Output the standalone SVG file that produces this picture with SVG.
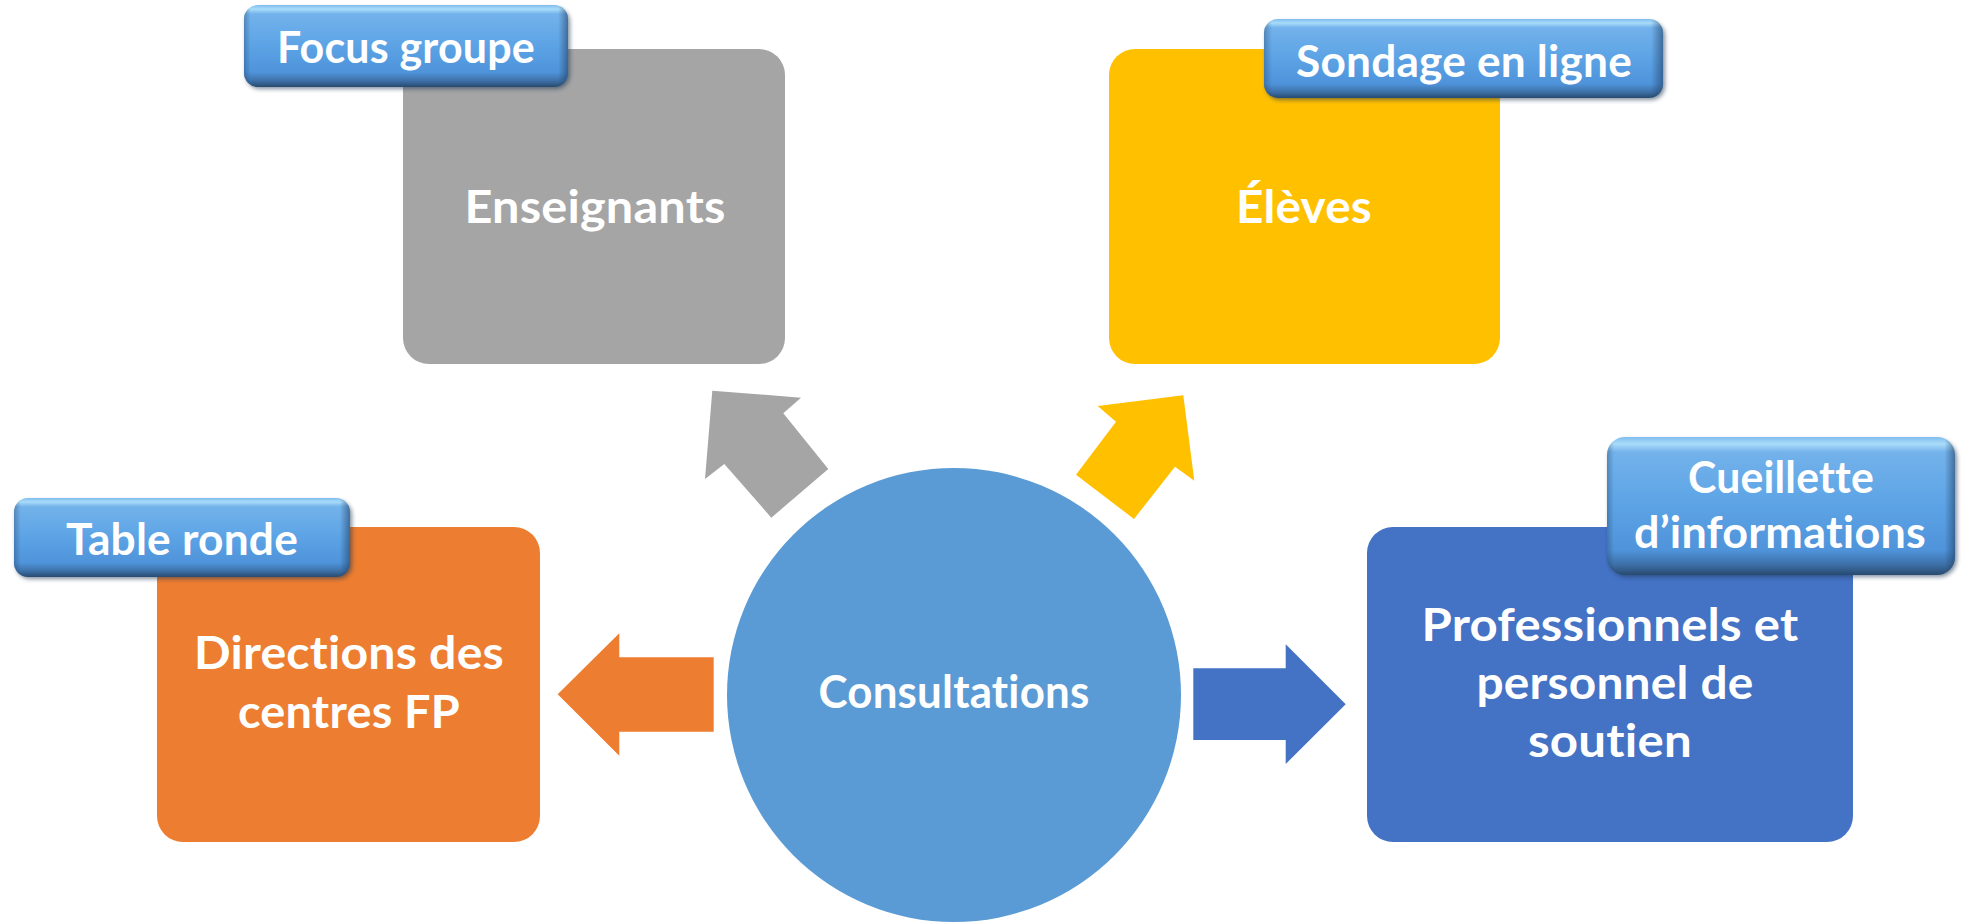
<svg xmlns="http://www.w3.org/2000/svg" width="1967" height="922" viewBox="0 0 1967 922">
  <style>
    .node-text { font-family: Lato, "Liberation Sans", sans-serif; font-weight: bold; font-size: 46px; fill: #ffffff; text-anchor: middle; font-variant-ligatures: none; font-feature-settings: "liga" 0, "clig" 0, "dlig" 0, "calt" 0; letter-spacing: 0.2px; }
    .label-text { font-family: Lato, "Liberation Sans", sans-serif; font-weight: bold; font-size: 43px; fill: #ffffff; text-anchor: middle; font-variant-ligatures: none; font-feature-settings: "liga" 0, "clig" 0, "dlig" 0, "calt" 0; letter-spacing: 0.2px; }
    .lbl { fill: url(#lblV); }
    .lbl-edge { fill: url(#lblH); }
    .lbl-shadow { fill: #1c3550; opacity: 0.55; filter: url(#blur); }
  </style>
  <defs>
    <linearGradient id="lblV" x1="0" y1="0" x2="0" y2="1">
      <stop offset="0" stop-color="#7fbcee"/>
      <stop offset="0.05" stop-color="#a9dcf9"/>
      <stop offset="0.11" stop-color="#73b2eb"/>
      <stop offset="0.5" stop-color="#5ca3e5"/>
      <stop offset="0.82" stop-color="#4f93da"/>
      <stop offset="0.92" stop-color="#3e72aa"/>
      <stop offset="1" stop-color="#284a70"/>
    </linearGradient>
    <linearGradient id="lblH" x1="0" y1="0" x2="1" y2="0">
      <stop offset="0" stop-color="#1e3a5c" stop-opacity="0.35"/>
      <stop offset="0.02" stop-color="#1e3a5c" stop-opacity="0"/>
      <stop offset="0.97" stop-color="#1e3a5c" stop-opacity="0"/>
      <stop offset="1" stop-color="#1e3a5c" stop-opacity="0.55"/>
    </linearGradient>
    <filter id="blur" x="-10%" y="-10%" width="120%" height="130%">
      <feGaussianBlur stdDeviation="2"/>
    </filter>
  </defs>

  <g id="connectors">
    <polygon id="arrow-enseignants" fill="#a5a5a5" points="712.3,390.7 801,397.7 783.3,413.3 828.3,469 771.3,517.7 724.3,464 705,479"/>
    <polygon id="arrow-eleves" fill="#ffc000" points="1097.7,406 1183.3,395.3 1194.3,480.7 1175,466.7 1134,519 1076,474.7 1116,421.7"/>
    <polygon id="arrow-directions" fill="#ed7d31" points="557.7,694.3 619.3,633.3 619.3,657.3 713.7,657.3 713.7,731.7 619.3,731.7 619.3,755.7"/>
    <polygon id="arrow-professionnels" fill="#4472c4" points="1193.3,668.3 1285.7,668.3 1285.7,644.3 1345.7,704.3 1285.7,764 1285.7,740 1193.3,740"/>
  </g>

  <g id="node-enseignants">
    <rect x="403" y="49" width="382" height="315" rx="26" fill="#a5a5a5"/>
    <text class="node-text" x="595" y="223" textLength="261" lengthAdjust="spacingAndGlyphs">Enseignants</text>
  </g>

  <g id="node-eleves">
    <rect x="1109" y="49" width="391" height="315" rx="26" fill="#ffc000"/>
    <text class="node-text" x="1304" y="223" textLength="136" lengthAdjust="spacingAndGlyphs">Élèves</text>
  </g>

  <g id="node-directions">
    <rect x="157" y="527" width="383" height="315" rx="26" fill="#ed7d31"/>
    <text class="node-text" x="349" y="669" textLength="310" lengthAdjust="spacingAndGlyphs">Directions des</text>
    <text class="node-text" x="349" y="728" textLength="222" lengthAdjust="spacingAndGlyphs">centres FP</text>
  </g>

  <g id="node-professionnels">
    <rect x="1367" y="527" width="486" height="315" rx="26" fill="#4472c4"/>
    <text class="node-text" x="1610" y="641" textLength="377" lengthAdjust="spacingAndGlyphs">Professionnels et</text>
    <text class="node-text" x="1615" y="699" textLength="277" lengthAdjust="spacingAndGlyphs">personnel de</text>
    <text class="node-text" x="1610" y="757" textLength="164" lengthAdjust="spacingAndGlyphs">soutien</text>
  </g>

  <g id="node-consultations">
    <circle cx="954" cy="695" r="227" fill="#5b9bd5"/>
    <text class="node-text" x="954" y="708" textLength="271" lengthAdjust="spacingAndGlyphs">Consultations</text>
  </g>

  <g id="label-focus-groupe">
    <rect class="lbl-shadow" x="246" y="8" width="324" height="81" rx="14"/>
    <rect class="lbl" x="244" y="5" width="324" height="82" rx="14"/>
    <rect class="lbl-edge" x="244" y="5" width="324" height="82" rx="14"/>
    <text class="label-text" x="406" y="63" textLength="258" lengthAdjust="spacingAndGlyphs">Focus groupe</text>
  </g>

  <g id="label-sondage">
    <rect class="lbl-shadow" x="1266" y="22" width="399" height="78" rx="14"/>
    <rect class="lbl" x="1264" y="19" width="399" height="79" rx="14"/>
    <rect class="lbl-edge" x="1264" y="19" width="399" height="79" rx="14"/>
    <text class="label-text" x="1464" y="77" textLength="336" lengthAdjust="spacingAndGlyphs">Sondage en ligne</text>
  </g>

  <g id="label-table-ronde">
    <rect class="lbl-shadow" x="16" y="501" width="336" height="78" rx="14"/>
    <rect class="lbl" x="14" y="498" width="336" height="79" rx="14"/>
    <rect class="lbl-edge" x="14" y="498" width="336" height="79" rx="14"/>
    <text class="label-text" x="182" y="555" textLength="232" lengthAdjust="spacingAndGlyphs">Table ronde</text>
  </g>

  <g id="label-cueillette">
    <rect class="lbl-shadow" x="1609" y="440" width="348" height="137" rx="18"/>
    <rect class="lbl" x="1607" y="437" width="348" height="138" rx="18"/>
    <rect class="lbl-edge" x="1607" y="437" width="348" height="138" rx="18"/>
    <text class="label-text" x="1781" y="493" textLength="186" lengthAdjust="spacingAndGlyphs">Cueillette</text>
    <text class="label-text" x="1780" y="548" textLength="292" lengthAdjust="spacingAndGlyphs">d’informations</text>
  </g>
</svg>
